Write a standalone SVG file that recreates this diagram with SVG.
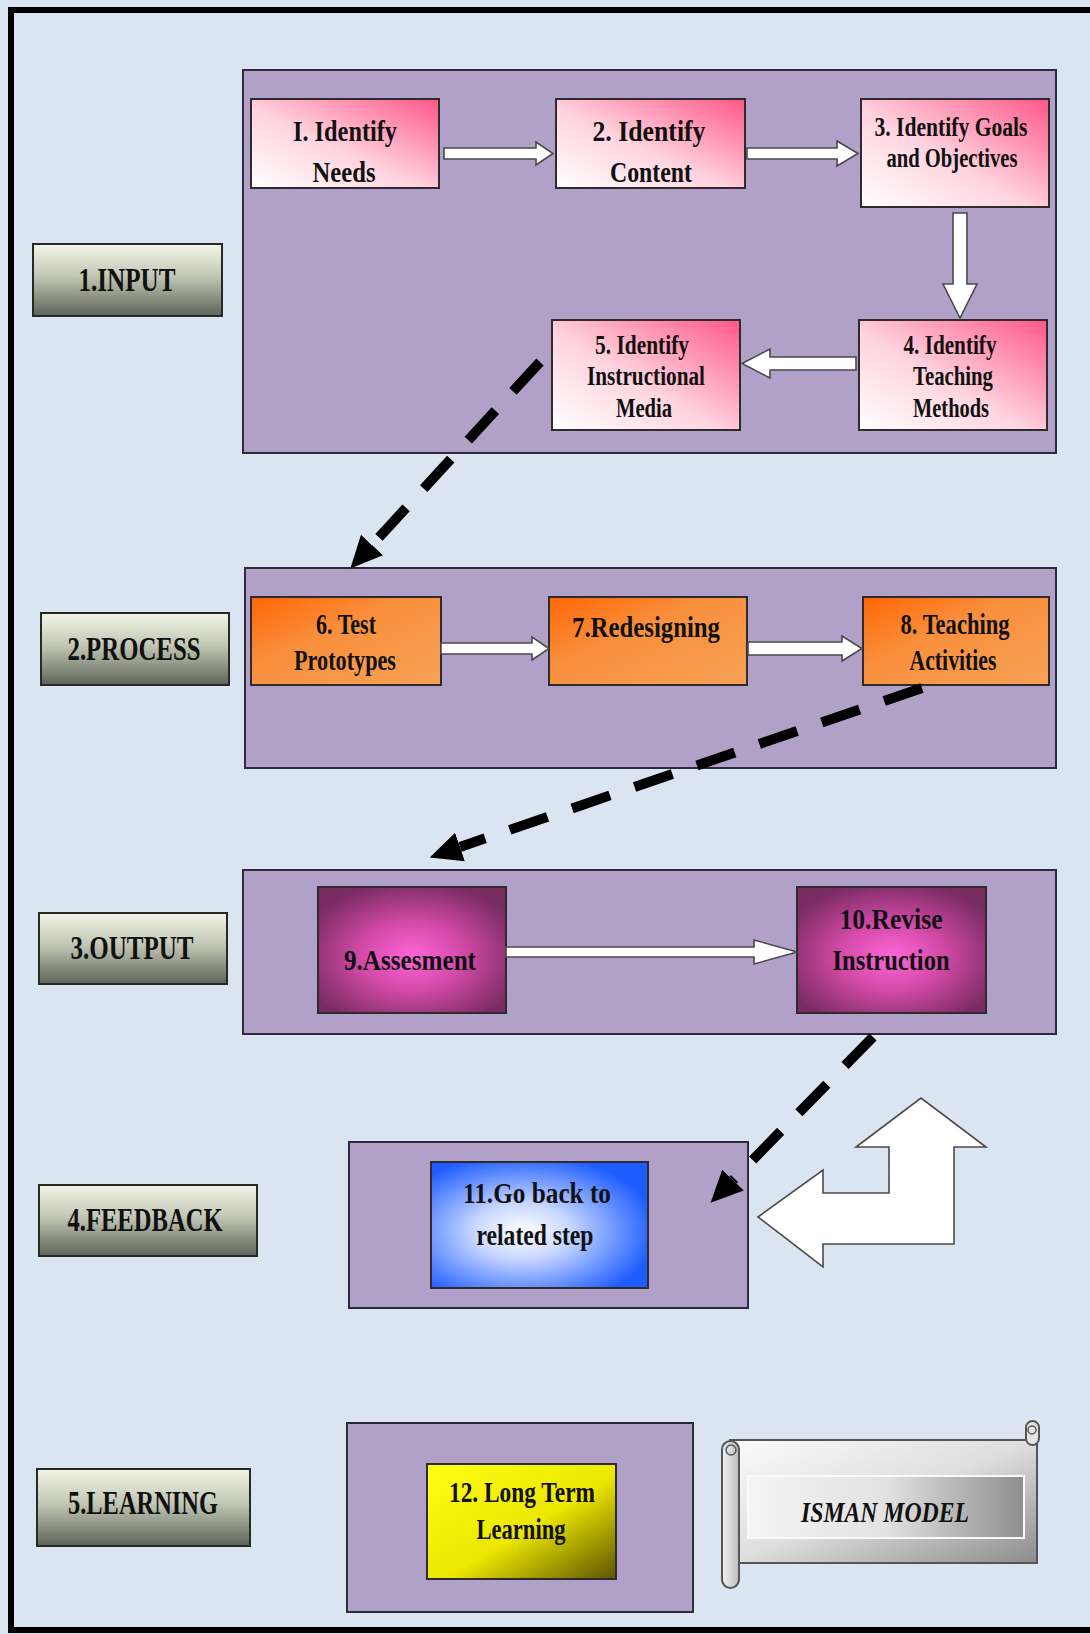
<svg xmlns="http://www.w3.org/2000/svg" width="1090" height="1634" viewBox="0 0 1090 1634">
<defs>
<style>
.bg{fill:#dbe5f1}
.panel{fill:#b1a0c7;stroke:#2b2b3c;stroke-width:2}
.step{stroke:#2e2a2e;stroke-width:2}
.lbl{fill:url(#gLabel);stroke:#262a24;stroke-width:2}
.t{font-family:"Liberation Serif","Times New Roman",serif;font-weight:bold;fill:#111;text-anchor:middle}
.st{font-size:29px}
.lt{font-size:33px}
.blk{fill:#ffffff;stroke:#4a4a4a;stroke-width:1.6;stroke-linejoin:miter}
.dash{fill:none;stroke:#000;stroke-width:10;stroke-dasharray:40 26}
.ah{fill:#000}
</style>
<linearGradient id="gPink" x1="0" y1="1" x2="1" y2="0">
<stop offset="0" stop-color="#ffffff"/>
<stop offset="0.45" stop-color="#ffd3df"/>
<stop offset="1" stop-color="#ff5788"/>
</linearGradient>
<linearGradient id="gOrange" x1="0" y1="0" x2="1" y2="1">
<stop offset="0" stop-color="#ff6605"/>
<stop offset="0.4" stop-color="#f98f3c"/>
<stop offset="1" stop-color="#f7a156"/>
</linearGradient>
<radialGradient id="gMagenta" cx="0.5" cy="0.55" r="0.6">
<stop offset="0" stop-color="#ff66d8"/>
<stop offset="0.45" stop-color="#d34aa8"/>
<stop offset="1" stop-color="#7a2b62"/>
</radialGradient>
<radialGradient id="gBlue" cx="0.42" cy="0.55" r="0.62">
<stop offset="0" stop-color="#ffffff"/>
<stop offset="0.35" stop-color="#c9d8ff"/>
<stop offset="1" stop-color="#1d5cff"/>
</radialGradient>
<linearGradient id="gYellow" x1="0" y1="0" x2="1" y2="1">
<stop offset="0" stop-color="#ffff14"/>
<stop offset="0.55" stop-color="#ece600"/>
<stop offset="1" stop-color="#5c5400"/>
</linearGradient>
<linearGradient id="gLabel" x1="0" y1="0" x2="0" y2="1">
<stop offset="0" stop-color="#f3f6e6"/>
<stop offset="0.45" stop-color="#c2c6b4"/>
<stop offset="1" stop-color="#5d6358"/>
</linearGradient>
<linearGradient id="gScroll" x1="0" y1="0" x2="1" y2="1">
<stop offset="0" stop-color="#fbfbfb"/>
<stop offset="0.5" stop-color="#dedede"/>
<stop offset="1" stop-color="#8c8c8c"/>
</linearGradient>
<linearGradient id="gScrollIn" x1="0" y1="0" x2="1" y2="0">
<stop offset="0" stop-color="#f4f4f4"/>
<stop offset="0.5" stop-color="#e2e2e2"/>
<stop offset="1" stop-color="#8e8e8e"/>
</linearGradient>
<linearGradient id="gRoll" x1="0" y1="0" x2="1" y2="0">
<stop offset="0" stop-color="#f2f2f2"/>
<stop offset="1" stop-color="#bdbdbd"/>
</linearGradient>
<marker id="head" markerUnits="userSpaceOnUse" markerWidth="34" markerHeight="34" refX="0" refY="15" orient="auto" viewBox="0 0 34 34">
<path d="M0,0 L32,15 L0,30 Z" class="ah"/>
</marker>
</defs>

<rect class="bg" x="0" y="0" width="1090" height="1634"/>
<path d="M1090,10 H11 V1630 H1090" fill="none" stroke="#000" stroke-width="6"/>

<!-- phase labels -->
<g id="label-input"><rect class="lbl" x="33" y="244" width="189" height="72"/><text class="t lt" x="127" y="291" textLength="97" lengthAdjust="spacingAndGlyphs">1.INPUT</text></g>
<g id="label-process"><rect class="lbl" x="41" y="613" width="188" height="72"/><text class="t lt" x="134" y="660" textLength="133" lengthAdjust="spacingAndGlyphs">2.PROCESS</text></g>
<g id="label-output"><rect class="lbl" x="39" y="913" width="188" height="71"/><text class="t lt" x="132" y="959" textLength="123" lengthAdjust="spacingAndGlyphs">3.OUTPUT</text></g>
<g id="label-feedback"><rect class="lbl" x="39" y="1185" width="218" height="71"/><text class="t lt" x="145" y="1231" textLength="155" lengthAdjust="spacingAndGlyphs">4.FEEDBACK</text></g>
<g id="label-learning"><rect class="lbl" x="37" y="1469" width="213" height="77"/><text class="t lt" x="143" y="1514" textLength="150" lengthAdjust="spacingAndGlyphs">5.LEARNING</text></g>

<!-- phase panels -->
<g id="panel-input"><rect class="panel" x="243" y="70" width="813" height="383"/></g>
<g id="panel-process"><rect class="panel" x="245" y="568" width="811" height="200"/></g>
<g id="panel-output"><rect class="panel" x="243" y="870" width="813" height="164"/></g>
<g id="panel-feedback"><rect class="panel" x="349" y="1142" width="399" height="166"/></g>
<g id="panel-learning"><rect class="panel" x="347" y="1423" width="346" height="189"/></g>

<!-- steps -->
<g id="step1"><rect class="step" fill="url(#gPink)" x="251" y="99" width="188" height="89"/>
<text class="t st" x="345" y="141" textLength="104" lengthAdjust="spacingAndGlyphs">I. Identify</text>
<text class="t st" x="344" y="182" textLength="63" lengthAdjust="spacingAndGlyphs">Needs</text></g>
<g id="step2"><rect class="step" fill="url(#gPink)" x="556" y="99" width="189" height="89"/>
<text class="t st" x="649" y="141" textLength="113" lengthAdjust="spacingAndGlyphs">2. Identify</text>
<text class="t st" x="651" y="182" textLength="82" lengthAdjust="spacingAndGlyphs">Content</text></g>
<g id="step3"><rect class="step" fill="url(#gPink)" x="861" y="99" width="188" height="108"/>
<text class="t" font-size="27" x="951" y="136" textLength="153" lengthAdjust="spacingAndGlyphs">3. Identify Goals</text>
<text class="t" font-size="27" x="952" y="167" textLength="131" lengthAdjust="spacingAndGlyphs">and Objectives</text></g>
<g id="step4"><rect class="step" fill="url(#gPink)" x="859" y="320" width="188" height="110"/>
<text class="t" font-size="27" x="950" y="354" textLength="93" lengthAdjust="spacingAndGlyphs">4. Identify</text>
<text class="t" font-size="27" x="953" y="385" textLength="80" lengthAdjust="spacingAndGlyphs">Teaching</text>
<text class="t" font-size="27" x="951" y="417" textLength="76" lengthAdjust="spacingAndGlyphs">Methods</text></g>
<g id="step5"><rect class="step" fill="url(#gPink)" x="552" y="320" width="188" height="110"/>
<text class="t" font-size="27" x="642" y="354" textLength="94" lengthAdjust="spacingAndGlyphs">5. Identify</text>
<text class="t" font-size="27" x="646" y="385" textLength="118" lengthAdjust="spacingAndGlyphs">Instructional</text>
<text class="t" font-size="27" x="644" y="417" textLength="56" lengthAdjust="spacingAndGlyphs">Media</text></g>

<g id="step6"><rect class="step" fill="url(#gOrange)" x="251" y="597" width="190" height="88"/>
<text class="t st" x="346" y="634" textLength="60" lengthAdjust="spacingAndGlyphs">6. Test</text>
<text class="t st" x="345" y="670" textLength="102" lengthAdjust="spacingAndGlyphs">Prototypes</text></g>
<g id="step7"><rect class="step" fill="url(#gOrange)" x="549" y="597" width="198" height="88"/>
<text class="t st" x="646" y="637" textLength="148" lengthAdjust="spacingAndGlyphs">7.Redesigning</text></g>
<g id="step8"><rect class="step" fill="url(#gOrange)" x="863" y="597" width="186" height="88"/>
<text class="t st" x="955" y="634" textLength="109" lengthAdjust="spacingAndGlyphs">8. Teaching</text>
<text class="t st" x="953" y="670" textLength="87" lengthAdjust="spacingAndGlyphs">Activities</text></g>

<g id="step9"><rect class="step" fill="url(#gMagenta)" x="318" y="887" width="188" height="126"/>
<text class="t st" x="410" y="970" textLength="132" lengthAdjust="spacingAndGlyphs">9.Assesment</text></g>
<g id="step10"><rect class="step" fill="url(#gMagenta)" x="797" y="887" width="189" height="126"/>
<text class="t st" x="891" y="929" textLength="103" lengthAdjust="spacingAndGlyphs">10.Revise</text>
<text class="t st" x="891" y="970" textLength="117" lengthAdjust="spacingAndGlyphs">Instruction</text></g>

<g id="step11"><rect class="step" fill="url(#gBlue)" x="431" y="1162" width="217" height="126"/>
<text class="t st" x="537" y="1203" textLength="148" lengthAdjust="spacingAndGlyphs">11.Go back to</text>
<text class="t st" x="535" y="1245" textLength="117" lengthAdjust="spacingAndGlyphs">related step</text></g>

<g id="step12"><rect class="step" fill="url(#gYellow)" x="427" y="1464" width="189" height="115"/>
<text class="t st" x="522" y="1502" textLength="146" lengthAdjust="spacingAndGlyphs">12. Long Term</text>
<text class="t st" x="521" y="1539" textLength="89" lengthAdjust="spacingAndGlyphs">Learning</text></g>

<!-- title scroll -->
<g id="isman-model">
<rect x="730" y="1440" width="307" height="123" fill="url(#gScroll)" stroke="#555" stroke-width="2"/>
<rect x="1026" y="1421" width="13" height="24" rx="6.5" fill="#e4e4e4" stroke="#555" stroke-width="2"/>
<circle cx="1032" cy="1430" r="4" fill="none" stroke="#555" stroke-width="1.5"/>
<rect x="722" y="1441" width="17" height="147" rx="8.5" fill="url(#gRoll)" stroke="#555" stroke-width="2"/>
<circle cx="731" cy="1450" r="5" fill="none" stroke="#555" stroke-width="1.5"/>
<rect x="748" y="1476" width="276" height="62" fill="url(#gScrollIn)" stroke="#fafafa" stroke-width="2"/>
<text class="t" x="885" y="1522" font-size="29" font-style="italic" textLength="168" lengthAdjust="spacingAndGlyphs">ISMAN MODEL</text>
</g>

<!-- big return arrow -->
<g id="return-arrow">
<polygon class="blk" stroke-width="2" points="758,1217 823,1170 823,1193 889,1193 889,1147 856,1147 921,1098 986,1147 954,1147 954,1244 823,1244 823,1267"/>
</g>

<!-- connectors -->
<g id="connectors">
<polygon class="blk" points="444,148 536,148 536,142 553,153.5 536,165 536,159 444,159"/>
<polygon class="blk" points="747,148 837,148 837,141 858,153.5 837,166 837,159 747,159"/>
<polygon class="blk" points="953,213 967,213 967,284 977,284 960,318 943,284 953,284"/>
<polygon class="blk" points="856,357 770,357 770,349 742,363.5 770,378 770,370 856,370"/>
<polygon class="blk" points="441,643 532,643 532,637 549,648.5 532,660 532,654 441,654"/>
<polygon class="blk" points="748,642 842,642 842,636 862,648.5 842,661 842,655 748,655"/>
<polygon class="blk" points="506,947 754,947 754,940 797,952 754,964 754,957 506,957"/>
<path class="dash" d="M540,362 L372,545" marker-end="url(#head)"/>
<path class="dash" d="M922,688 L460,847" marker-end="url(#head)"/>
<path class="dash" d="M873,1037 L733,1180" marker-end="url(#head)"/>
</g>
</svg>
